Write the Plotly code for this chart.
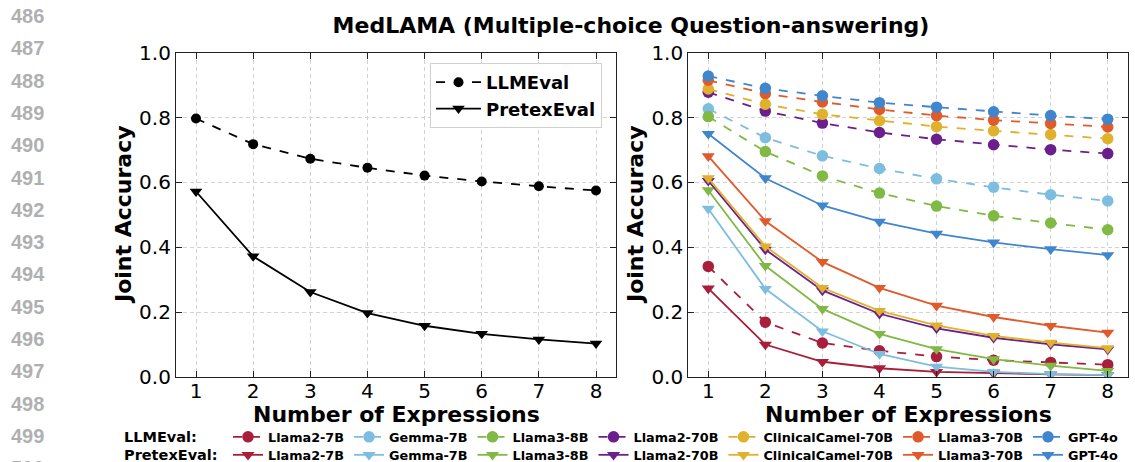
import plotly.graph_objects as go

W, H = 1135, 462
x_vals = [1, 2, 3, 4, 5, 6, 7, 8]

# Left panel (average)
avg_llmeval = [0.797, 0.718, 0.673, 0.645, 0.621, 0.603, 0.588, 0.575]
avg_pretex = [0.572, 0.372, 0.262, 0.197, 0.158, 0.133, 0.116, 0.103]

models = ["Llama2-7B", "Gemma-7B", "Llama3-8B", "Llama2-70B",
          "ClinicalCamel-70B", "Llama3-70B", "GPT-4o"]
colors = ["#A81E3B", "#7DBDE0", "#80B943", "#6A1F8C",
          "#E0B12B", "#E05A2C", "#4086CF"]

llmeval = {
    "Llama2-7B": [0.341, 0.169, 0.105, 0.081, 0.063, 0.052, 0.045, 0.038],
    "Gemma-7B": [0.827, 0.738, 0.682, 0.643, 0.611, 0.585, 0.562, 0.543],
    "Llama3-8B": [0.803, 0.695, 0.620, 0.567, 0.527, 0.497, 0.475, 0.454],
    "Llama2-70B": [0.878, 0.820, 0.783, 0.754, 0.733, 0.716, 0.701, 0.689],
    "ClinicalCamel-70B": [0.888, 0.841, 0.810, 0.790, 0.772, 0.759, 0.748, 0.735],
    "Llama3-70B": [0.915, 0.874, 0.848, 0.825, 0.806, 0.792, 0.782, 0.771],
    "GPT-4o": [0.928, 0.890, 0.867, 0.846, 0.832, 0.818, 0.806, 0.795],
}
pretex = {
    "Llama2-7B": [0.273, 0.100, 0.047, 0.027, 0.016, 0.011, 0.008, 0.006],
    "Gemma-7B": [0.519, 0.272, 0.141, 0.071, 0.032, 0.016, 0.009, 0.006],
    "Llama3-8B": [0.576, 0.343, 0.210, 0.133, 0.086, 0.055, 0.035, 0.019],
    "Llama2-70B": [0.605, 0.393, 0.267, 0.195, 0.150, 0.121, 0.101, 0.085],
    "ClinicalCamel-70B": [0.613, 0.403, 0.275, 0.204, 0.159, 0.127, 0.106, 0.089],
    "Llama3-70B": [0.681, 0.481, 0.355, 0.275, 0.220, 0.185, 0.158, 0.137],
    "GPT-4o": [0.750, 0.613, 0.529, 0.479, 0.442, 0.415, 0.394, 0.376],
}

y_ticks = [0.0, 0.2, 0.4, 0.6, 0.8, 1.0]
title_text = "MedLAMA (Multiple-choice Question-answering)"
x_title = "Number of Expressions"
y_title = "Joint Accuracy"
line_numbers = list(range(486, 501))

FONT = "DejaVu Sans"

fig = go.Figure()

# left panel
fig.add_trace(go.Scatter(x=x_vals, y=avg_llmeval, name="LLMEval", mode="lines+markers",
                         line=dict(color="black", width=1.8, dash="dash"),
                         marker=dict(symbol="circle", size=10, color="black"),
                         xaxis="x", yaxis="y", legend="legend3"))
fig.add_trace(go.Scatter(x=x_vals, y=avg_pretex, name="PretexEval", mode="lines+markers",
                         line=dict(color="black", width=1.8),
                         marker=dict(symbol="triangle-down", size=11, color="black"),
                         xaxis="x", yaxis="y", legend="legend3"))

for m, c in zip(models, colors):
    fig.add_trace(go.Scatter(x=x_vals, y=llmeval[m], name=m, mode="lines+markers",
                             line=dict(color=c, width=1.8, dash="dash"),
                             marker=dict(symbol="circle", size=11.5, color=c),
                             xaxis="x2", yaxis="y2", legend="legend"))
    fig.add_trace(go.Scatter(x=x_vals, y=pretex[m], name=m, mode="lines+markers",
                             line=dict(color=c, width=1.8),
                             marker=dict(symbol="triangle-down", size=11.5, color=c),
                             xaxis="x2", yaxis="y2", legend="legend2"))

L1, R1 = 176.0, 616.0
L2, R2 = 688.3, 1127.7
TOP, BOT = 52.7, 377.0

def ax_common():
    return dict(showline=True, linecolor="#222", linewidth=1.2, mirror="allticks",
                ticks="inside", ticklen=6, tickwidth=1.2, tickcolor="#222",
                showgrid=True, gridcolor="#d2d2d2", griddash="4px,3px", gridwidth=0.8,
                zeroline=False, automargin=False,
                tickfont=dict(family=FONT, size=20, color="black"))

xcfg = dict(range=[0.65, 8.35], tickvals=x_vals, ticklabelstandoff=-4, **ax_common())
ycfg = dict(range=[0, 1.0], tickvals=y_ticks, ticktext=[f"{v:.1f}" for v in y_ticks], **ax_common())

LEG_FONT = dict(family=FONT, size=12.8, color="black", weight="bold")

fig.update_layout(
    width=W, height=H, margin=dict(l=0, r=0, t=0, b=0, autoexpand=False),
    paper_bgcolor="white", plot_bgcolor="white",
    xaxis=dict(domain=[L1 / W, R1 / W], anchor="y", **xcfg),
    yaxis=dict(domain=[1 - BOT / H, 1 - TOP / H], anchor="x", **ycfg),
    xaxis2=dict(domain=[L2 / W, R2 / W], anchor="y2", **xcfg),
    yaxis2=dict(domain=[1 - BOT / H, 1 - TOP / H], anchor="x2", **ycfg),
    title=dict(text=title_text, x=631 / W, y=1 - 25 / H, xanchor="center", yanchor="middle",
               font=dict(family=FONT, size=22, color="black", weight="bold")),
    legend=dict(orientation="h", x=228 / W, y=1 - 437 / H, xanchor="left", yanchor="middle",
                font=LEG_FONT, bgcolor="rgba(0,0,0,0)", itemwidth=30, tracegroupgap=0),
    legend2=dict(orientation="h", x=228 / W, y=1 - 455 / H, xanchor="left", yanchor="middle",
                 font=LEG_FONT, bgcolor="rgba(0,0,0,0)", itemwidth=30, tracegroupgap=0),
    legend3=dict(orientation="v", x=602 / W, y=1 - 63 / H, xanchor="right", yanchor="top",
                 font=dict(family=FONT, size=18, color="black", weight="bold"),
                 bgcolor="white", bordercolor="#d0d0d0", borderwidth=1, itemwidth=45),
)

ann = []
for cx in [(L1 + R1) / 2, (L2 + R2) / 2]:
    ann.append(dict(text=x_title, x=cx / W, y=1 - 414 / H, xref="paper", yref="paper",
                    showarrow=False, xanchor="center", yanchor="middle",
                    font=dict(family=FONT, size=22, color="black", weight="bold")))
for cx in [123, 635]:
    ann.append(dict(text=y_title, x=cx / W, y=1 - 215 / H, xref="paper", yref="paper",
                    showarrow=False, xanchor="center", yanchor="middle", textangle=-90,
                    font=dict(family=FONT, size=22, color="black", weight="bold")))
ann.append(dict(text="LLMEval:", x=122 / W, y=1 - 437 / H, xref="paper", yref="paper",
                showarrow=False, xanchor="left", yanchor="middle",
                font=dict(family=FONT, size=14.5, color="black", weight="bold")))
ann.append(dict(text="PretexEval:", x=122 / W, y=1 - 455 / H, xref="paper", yref="paper",
                showarrow=False, xanchor="left", yanchor="middle",
                font=dict(family=FONT, size=14.5, color="black", weight="bold")))
for i, n in enumerate(line_numbers):
    ann.append(dict(text=str(n), x=9 / W, y=1 - (16 + 32.3 * i) / H, xref="paper", yref="paper",
                    showarrow=False, xanchor="left", yanchor="middle",
                    font=dict(family="Liberation Sans", size=20, color="#b0b0b0", weight="bold")))
fig.update_layout(annotations=ann)

fig.write_html("out.html")
